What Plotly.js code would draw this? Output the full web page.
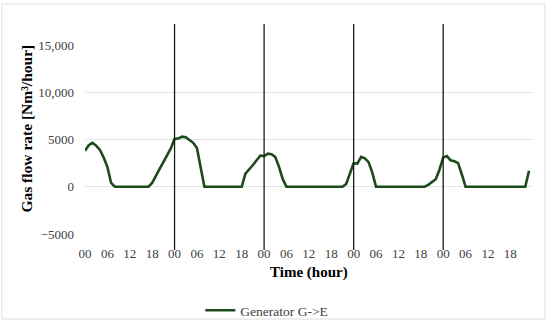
<!DOCTYPE html>
<html>
<head>
<meta charset="utf-8">
<script src="https://cdn.plot.ly/plotly-3.0.1.min.js"></script>
<style>
html,body{margin:0;padding:0;background:#fff;}
#chart{width:550px;height:324px;}
</style>
</head>
<body>
<div id="chart"></div>
<script>
// Gas flow rate of Generator G->E, hourly over 5 days (Nm3/hour)
const seriesName = "Generator G->E";
const flowRate = [
  3800, 4400, 4650, 4350, 3900, 3100, 2100, 400,
  0, 0, 0, 0, 0, 0, 0, 0, 0,
  0,
  400, 1200, 1900, 2600, 3350, 4050,
  5050, 5100, 5300, 5250, 4950, 4650, 4100, 2200,
  0, 0, 0, 0, 0, 0, 0, 0, 0, 0, 0,
  1400, 1800, 2300, 2800, 3300, 3250, 3500, 3450, 3150, 2100, 800,
  0, 0, 0, 0, 0, 0, 0, 0, 0, 0, 0, 0, 0, 0, 0, 0,
  300, 1500, 2500, 2450, 3150, 3000, 2600, 1500,
  0, 0, 0, 0, 0, 0, 0, 0, 0, 0, 0, 0, 0, 0,
  200, 550, 800, 1800, 3100, 3250, 2800, 2700, 2500, 1300,
  0, 0, 0, 0, 0, 0, 0, 0, 0, 0, 0, 0, 0, 0, 0, 0, 0,
  1700
];
const hourTickLabels = ["00","06","12","18","00","06","12","18","00","06","12","18","00","06","12","18","00","06","12","18"];
const hourTickPositions = [0,6,12,18,24,30,36,42,48,54,60,66,72,78,84,90,96,102,108,114];
const dayBoundaries = [24, 48, 72, 96];
const yTickValues = [-5000, 0, 5000, 10000, 15000];
const yTickLabels = ["\u22125000", "0", "5000", "10,000", "15,000"];

const hours = flowRate.map((_, i) => i);

const FONT = "'Liberation Serif', 'Times New Roman', serif";

const trace = {
  x: hours,
  y: flowRate,
  type: "scatter",
  mode: "lines",
  name: seriesName,
  line: {color: "#1c4a1c", width: 2.6},
  hoverinfo: "skip"
};

const shapes = dayBoundaries.map(d => ({
  type: "line", xref: "x", yref: "paper",
  x0: d, x1: d, y0: -0.085, y1: 1.111,
  line: {color: "#1a1a1a", width: 1.3}
}));
shapes.push({
  type: "rect", xref: "paper", yref: "paper",
  x0: -0.186, x1: 1.029, y0: -0.45, y1: 1.217,
  line: {color: "#dedede", width: 1}
});

const layout = {
  width: 550, height: 324,
  margin: {l: 85, r: 18, t: 45, b: 90, autoexpand: false},
  paper_bgcolor: "#ffffff",
  plot_bgcolor: "#ffffff",
  showlegend: true,
  legend: {
    orientation: "h", x: 0.258, xanchor: "left", y: -0.405, yanchor: "middle",
    font: {family: FONT, size: 13.5, color: "#404040"},
    bgcolor: "rgba(0,0,0,0)"
  },
  xaxis: {
    range: [0, 119.8],
    tickmode: "array",
    tickvals: hourTickPositions,
    ticktext: hourTickLabels,
    showgrid: false,
    zeroline: false,
    showline: false,
    ticks: "",
    ticklabelstandoff: 10,
    automargin: false,
    tickfont: {family: FONT, size: 13, color: "#404040"}
  },
  yaxis: {
    range: [-5000, 15000],
    tickmode: "array",
    tickvals: yTickValues,
    ticktext: yTickLabels,
    showgrid: true,
    gridcolor: "#e3e3e3",
    gridwidth: 1,
    zeroline: false,
    showline: false,
    ticks: "",
    ticklabelstandoff: 10,
    automargin: false,
    tickfont: {family: FONT, size: 13, color: "#404040"}
  },
  shapes: shapes,
  annotations: [
    {
      text: "Gas flow rate [Nm\u00b3/hour]",
      xref: "paper", yref: "paper",
      x: -0.131, y: 0.56, xanchor: "center", yanchor: "middle",
      textangle: -90, showarrow: false,
      font: {family: FONT, size: 15.5, color: "#000000", weight: "bold"}
    },
    {
      text: "Time (hour)",
      xref: "paper", yref: "paper",
      x: 0.5, y: -0.206, xanchor: "center", yanchor: "middle",
      showarrow: false,
      font: {family: FONT, size: 15, color: "#000000", weight: "bold"}
    }
  ]
};

Plotly.newPlot("chart", [trace], layout, {displayModeBar: false, staticPlot: true});
</script>
</body>
</html>
